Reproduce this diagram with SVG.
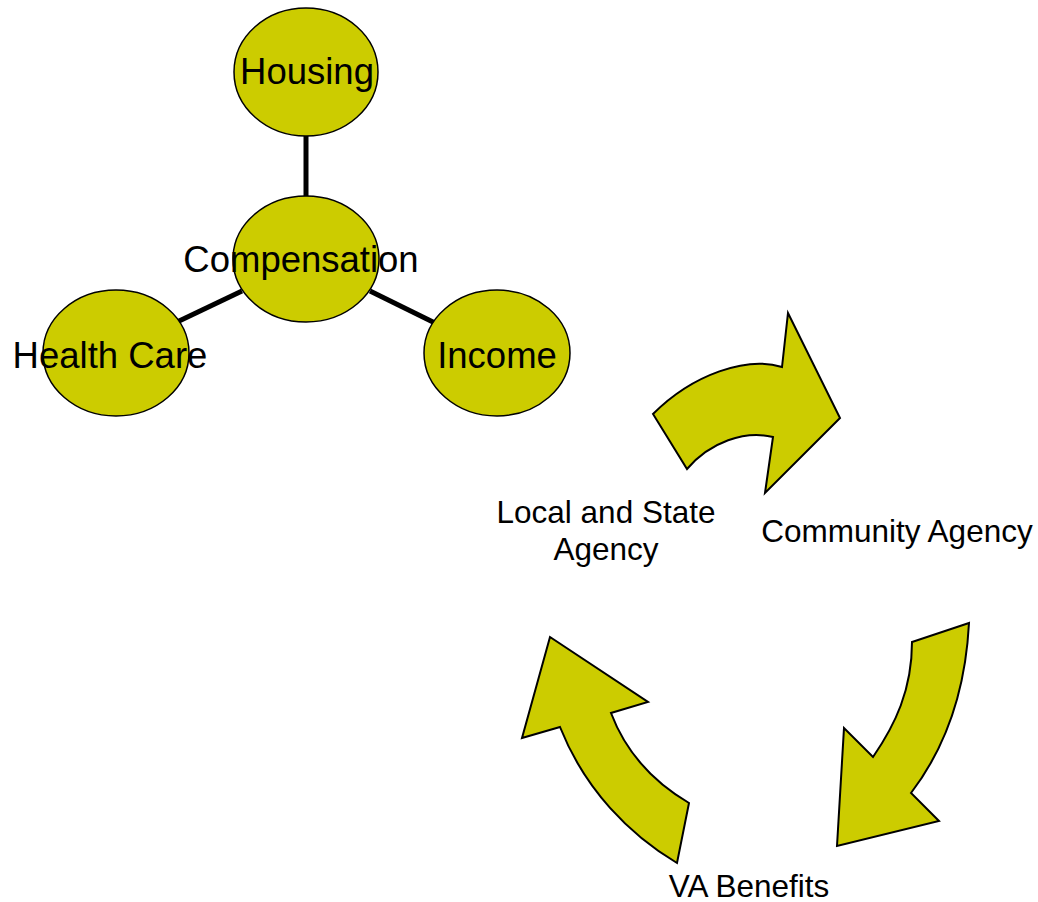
<svg xmlns="http://www.w3.org/2000/svg" width="1038" height="902" viewBox="0 0 1038 902">
<style>
.n{fill:#CCCC00;stroke:#000;stroke-width:1.5}
.l{stroke:#000;stroke-width:5}
.t{font-family:"Liberation Sans",Arial,sans-serif;fill:#000;text-anchor:middle}
.big{font-size:36.5px}
.sm{font-size:31.5px}
.arr{fill:#CCCC00;stroke:#000;stroke-width:2;stroke-linejoin:miter}
</style>
<g id="connectors">
<line class="l" x1="306" y1="136" x2="306" y2="196"/>
<line class="l" x1="242" y1="291" x2="177" y2="322"/>
<line class="l" x1="370" y1="291" x2="435" y2="323"/>
</g>
<g id="housing"><ellipse class="n" cx="306" cy="72" rx="72" ry="64"/><text class="t big" x="307" y="84">Housing</text></g>
<g id="compensation"><ellipse class="n" cx="306" cy="259" rx="73" ry="63"/><text class="t big" x="301" y="272">Compensation</text></g>
<g id="healthcare"><ellipse class="n" cx="116" cy="353" rx="73" ry="63"/><text class="t big" x="110" y="368">Health Care</text></g>
<g id="income"><ellipse class="n" cx="497" cy="353" rx="73" ry="63"/><text class="t big" x="497" y="368">Income</text></g>
<g id="cycle-arrows">
<path class="arr" d="M653,414 C693,374 747,356 782,367 L788,313 L840,418 L765,493 L773,437 C745,430 710,442 687,469 Z"/>
<path class="arr" d="M969,623 L912,642 C912,690 895,725 873,757 L844,728 L837,846 L939,821 L911,793 C940,755 965,700 969,623 Z"/>
<path class="arr" d="M550,637 L648,702 L611,713 C625,750 650,780 689,803 L677,863 C630,835 585,790 560,727 L522,738 Z"/>
</g>
<g id="local"><text class="t sm" x="606" y="523">Local and State</text><text class="t sm" x="606" y="560">Agency</text></g>
<g id="community"><text class="t sm" x="897" y="542">Community Agency</text></g>
<g id="va"><text class="t sm" x="749" y="897">VA Benefits</text></g>
</svg>
